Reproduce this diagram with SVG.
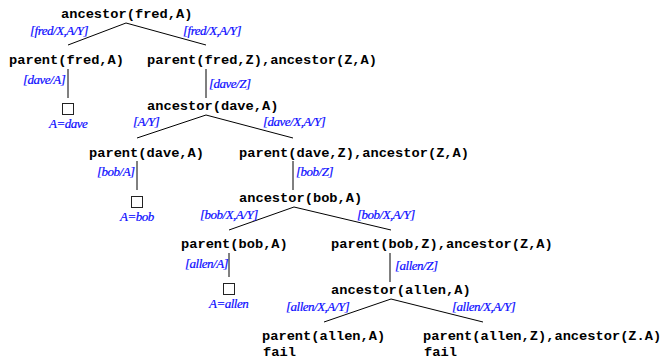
<svg xmlns="http://www.w3.org/2000/svg" width="664" height="360" viewBox="0 0 664 360">
<style>
.g{font-family:"Liberation Mono","Courier New",monospace;font-weight:bold;font-size:13.7px;fill:#000}
.l{font-family:"Liberation Serif","Times New Roman",serif;font-style:italic;font-size:13px;fill:#0a0aff;letter-spacing:-0.5px;stroke:#0a0aff;stroke-width:0.2px}
.e{stroke:#000;stroke-width:1;fill:none}
.b{stroke:#222;stroke-width:1;fill:#fff}
</style>
<rect width="664" height="360" fill="#fff"/>
<g id="connectors">
<line class="e" x1="126" y1="23" x2="68" y2="45"/>
<line class="e" x1="126" y1="23" x2="206" y2="45"/>
<line class="e" x1="68" y1="69" x2="68" y2="98"/>
<line class="e" x1="206" y1="69" x2="206" y2="98"/>
<line class="e" x1="206" y1="115" x2="137" y2="138"/>
<line class="e" x1="206" y1="115" x2="293" y2="138"/>
<line class="e" x1="137" y1="161" x2="137" y2="190"/>
<line class="e" x1="293" y1="161" x2="293" y2="190"/>
<line class="e" x1="294" y1="207" x2="229" y2="230"/>
<line class="e" x1="294" y1="207" x2="391" y2="230"/>
<line class="e" x1="229" y1="253" x2="229" y2="277"/>
<line class="e" x1="390" y1="253" x2="390" y2="282"/>
<line class="e" x1="391" y1="299" x2="324" y2="322"/>
<line class="e" x1="391" y1="299" x2="483" y2="322"/>
<text class="l" x="30" y="35">[fred/X,A/Y]</text>
<text class="l" x="183" y="35">[fred/X,A/Y]</text>
<text class="l" x="23" y="84">[dave/A]</text>
<text class="l" x="209" y="88">[dave/Z]</text>
<text class="l" x="133" y="126">[A/Y]</text>
<text class="l" x="263" y="126">[dave/X,A/Y]</text>
<text class="l" x="97" y="176">[bob/A]</text>
<text class="l" x="296" y="176">[bob/Z]</text>
<text class="l" x="200" y="219">[bob/X,A/Y]</text>
<text class="l" x="357" y="219">[bob/X,A/Y]</text>
<text class="l" x="185" y="268">[allen/A]</text>
<text class="l" x="395" y="270">[allen/Z]</text>
<text class="l" x="286" y="311">[allen/X,A/Y]</text>
<text class="l" x="452" y="311">[allen/X,A/Y]</text>
</g>
<g id="n1"><text class="g" x="61" y="18">ancestor(fred,A)</text></g>
<g id="n2"><text class="g" x="9" y="64">parent(fred,A)</text></g>
<g id="n3"><text class="g" x="147" y="64">parent(fred,Z),ancestor(Z,A)</text></g>
<g id="n4"><rect class="b" x="62.5" y="103.5" width="11" height="11"/><text class="l" x="49" y="128">A=dave</text></g>
<g id="n5"><text class="g" x="147" y="110">ancestor(dave,A)</text></g>
<g id="n6"><text class="g" x="89" y="157">parent(dave,A)</text></g>
<g id="n7"><text class="g" x="239" y="157">parent(dave,Z),ancestor(Z,A)</text></g>
<g id="n8"><rect class="b" x="131.5" y="196.5" width="11" height="11"/><text class="l" x="120" y="221">A=bob</text></g>
<g id="n9"><text class="g" x="239" y="202">ancestor(bob,A)</text></g>
<g id="n10"><text class="g" x="181" y="248">parent(bob,A)</text></g>
<g id="n11"><text class="g" x="331" y="248">parent(bob,Z),ancestor(Z,A)</text></g>
<g id="n12"><rect class="b" x="223.5" y="283.5" width="11" height="11"/><text class="l" x="209" y="308">A=allen</text></g>
<g id="n13"><text class="g" x="331" y="294">ancestor(allen,A)</text></g>
<g id="n14"><text class="g" x="262" y="340">parent(allen,A)</text><text class="g" x="263" y="356">fail</text></g>
<g id="n15"><text class="g" x="423" y="340">parent(allen,Z),ancestor(Z.A)</text><text class="g" x="424" y="356">fail</text></g>
</svg>
